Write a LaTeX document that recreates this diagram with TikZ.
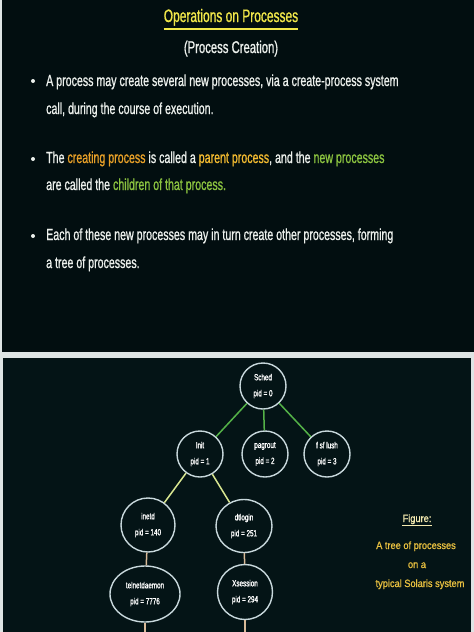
\documentclass[tikz,border=0pt]{standalone}
\usepackage{fontspec}
\usetikzlibrary{shapes.geometric}

\newfontfamily\slidefont{Liberation Sans}[FakeStretch=0.665,FakeBold=0.9]
\newfontfamily\treefont{Liberation Sans}[FakeStretch=0.7,FakeBold=1.2]
\newfontfamily\capfont{Liberation Sans}[FakeStretch=0.88,FakeBold=1]

\definecolor{frame}{RGB}{222,228,228}
\definecolor{boardtop}{RGB}{2,14,16}
\definecolor{boardbot}{RGB}{4,20,22}
\definecolor{titleyellow}{RGB}{242,232,74}
\definecolor{slidewhite}{RGB}{236,240,236}
\definecolor{creatorange}{RGB}{232,160,40}
\definecolor{parentgold}{RGB}{242,186,48}
\definecolor{childgreen}{RGB}{140,196,64}
\definecolor{ring}{RGB}{200,216,220}
\definecolor{edgegreen}{RGB}{84,178,72}
\definecolor{edgelime}{RGB}{216,230,144}
\definecolor{edgetan}{RGB}{216,186,152}
\definecolor{capgold}{RGB}{232,192,64}
\definecolor{figpale}{RGB}{244,234,176}

\begin{document}
\begin{tikzpicture}[x=1pt,y=-1pt,
	line/.style={anchor=base west, inner sep=0pt, text=slidewhite, font=\slidefont\fontsize{16}{20}\selectfont},
	bullet/.style={circle, fill=slidewhite, inner sep=0pt, minimum size=4pt},
	proc/.style={circle, draw=ring, line width=1.4pt, inner sep=0pt, minimum size=46pt, align=center, text=white, font=\treefont\fontsize{9}{16}\selectfont},
	oval/.style={proc, ellipse},
	captext/.style={anchor=base, inner sep=0pt, text=capgold, font=\capfont\fontsize{10.5}{12}\selectfont}]

	\useasboundingbox (0,0) rectangle (474,632);
	\fill [frame] (0,0) rectangle (474,632);
	\fill [boardtop] (2,0) rectangle (474,352);
	\fill [boardbot] (3,358) rectangle (471,632);

	% top slide
	\node [anchor=base, inner sep=0pt, text=titleyellow, font=\slidefont\fontsize{18}{22}\selectfont] (title) at (231,22) {Operations on Processes};
	\draw [titleyellow, line width=1.3pt] ([yshift=-7pt]title.base west) -- ([yshift=-7pt]title.base east);
	\node [anchor=base, inner sep=0pt, text=slidewhite, font=\slidefont\fontsize{17}{20}\selectfont] (subtitle) at (231,53) {(Process Creation)};

	\node [bullet] (b1) at (33,81) {};
	\node [line] (l1a) at (46,86) {A process may create several new processes, via a create-process system};
	\node [line] (l1b) at (46,114) {call, during the course of execution.};

	\node [bullet] (b2) at (33,159) {};
	\node [line] (l2a) at (46,163) {The \textcolor{creatorange}{creating process} is called a \textcolor{parentgold}{parent process}, and the \textcolor{childgreen}{new processes}};
	\node [line] (l2b) at (46,190) {are called the \textcolor{childgreen}{children of that process.}};

	\node [bullet] (b3) at (33,236) {};
	\node [line] (l3a) at (46,240) {Each of these new processes may in turn create other processes, forming};
	\node [line] (l3b) at (46,268) {a tree of processes.};

	% process tree
	\node [proc] (sched) at (263,386) {Sched\\pid = 0};
	\node [proc] (init) at (200,454) {Init\\pid = 1};
	\node [proc] (pagrout) at (265,454) {pagrout\\pid = 2};
	\node [proc] (fsflush) at (327,454) {f sf lush\\pid = 3};
	\node [proc, minimum size=54pt] (inetd) at (148,525) {inetd\\pid = 140};
	\node [oval, minimum width=56pt, minimum height=53pt] (dtlogin) at (244,526) {dtlogin\\pid = 251};
	\node [oval, minimum width=70pt, minimum height=56pt] (telnet) at (145,594) {telnetdaemon\\pid = 7776};
	\node [proc, minimum size=55pt] (xsession) at (245,592) {Xsession\\pid = 294};
	\coordinate (telnetend) at (145,632);
	\coordinate (xsessionend) at (245,632);

	\draw [edgegreen, line width=1.5pt] (sched) -- (init);
	\draw [edgegreen, line width=1.5pt] (sched) -- (pagrout);
	\draw [edgegreen, line width=1.5pt] (sched) -- (fsflush);
	\draw [edgelime, line width=1.5pt] (init) -- (inetd);
	\draw [edgelime, line width=1.5pt] (init) -- (dtlogin);
	\draw [edgetan, line width=1.5pt] (inetd) -- (telnet);
	\draw [edgetan, line width=1.5pt] (dtlogin) -- (xsession);
	\draw [edgetan, line width=1.5pt] (telnet) -- (telnetend);
	\draw [edgetan, line width=1.5pt] (xsession) -- (xsessionend);

	% caption
	\node [captext, text=figpale] (figure) at (417,522) {Figure:};
	\draw [figpale, line width=0.7pt] ([yshift=-3pt]figure.base west) -- ([yshift=-3pt]figure.base east);
	\node [captext] (cap1) at (416,549) {A tree of processes};
	\node [captext] (cap2) at (417,568) {on a};
	\node [captext] (cap3) at (420,587) {typical Solaris system};
\end{tikzpicture}
\end{document}
